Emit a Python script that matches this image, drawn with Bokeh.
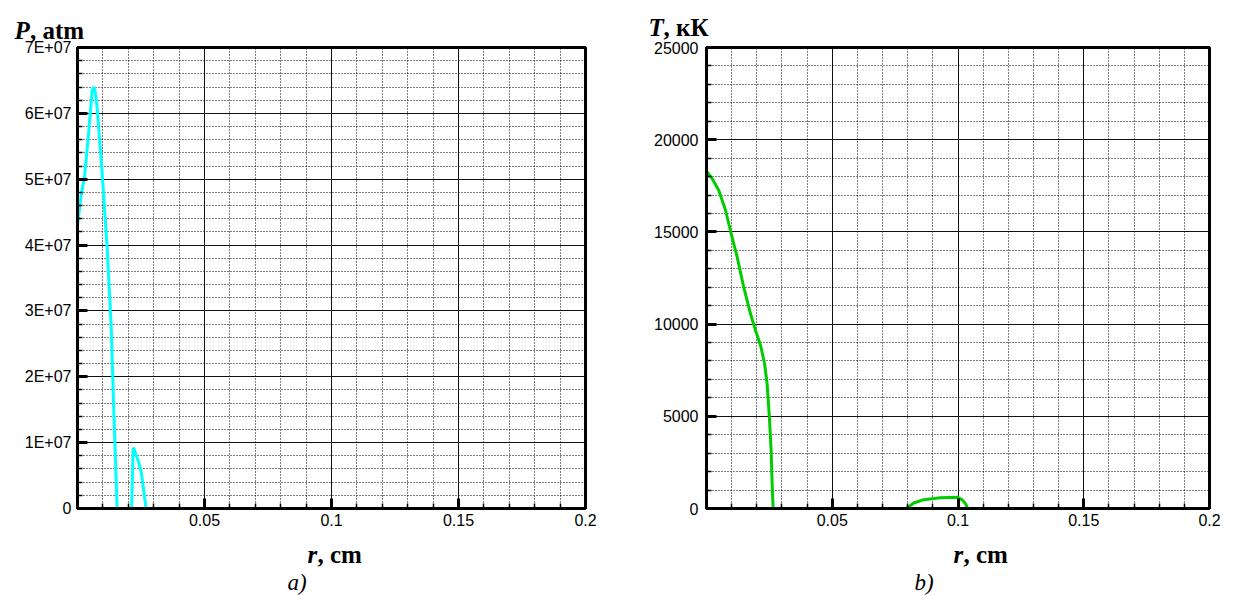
from bokeh.plotting import figure
from bokeh.layouts import row
from bokeh.models import Range1d, FixedTicker, Label
from bokeh.embed import file_html
from bokeh.resources import INLINE

# ---------------- data ----------------
# (a) pressure, atm  vs r, cm
r_p_main = [0.0, 0.0014, 0.0028, 0.0045, 0.0058, 0.0067, 0.0077, 0.0097, 0.0117, 0.0133, 0.0143, 0.0156]
p_main = [4.3e7, 4.75e7, 5.05e7, 5.75e7, 6.36e7, 6.4e7, 6.1e7, 5.1e7, 3.94e7, 2.73e7, 1.48e7, 0.0]
r_p_bump = [0.0213, 0.0219, 0.0223, 0.0241, 0.0252, 0.0270]
p_bump = [0.0, 9.2e6, 9.0e6, 7.0e6, 5.3e6, 0.0]

# (b) temperature vs r, cm
r_t_main = [0.0, 0.0023, 0.0049, 0.0076, 0.0095, 0.0122, 0.0148, 0.0175, 0.0195, 0.0215,
            0.0231, 0.0241, 0.0250, 0.0257, 0.0261, 0.0265]
t_main = [18300, 17880, 17245, 16160, 15075, 13630, 12000, 10560, 9650, 8840,
          7850, 6760, 4950, 3145, 1340, 0]
r_t_bump = [0.0795, 0.0824, 0.0864, 0.0930, 0.0997, 0.1017, 0.1030, 0.1039]
t_bump = [0, 300, 480, 580, 615, 470, 255, 0]

x_ticks = [0.0, 0.05, 0.1, 0.15, 0.2]
x_tick_labels = ["", "0.05", "0.1", "0.15", "0.2"]
p_ticks = [0, 10000000, 20000000, 30000000, 40000000, 50000000, 60000000, 70000000]
p_tick_labels = ["0", "1E+07", "2E+07", "3E+07", "4E+07", "5E+07", "6E+07", "7E+07"]
t_ticks = [0, 5000, 10000, 15000, 20000, 25000]
t_tick_labels = ["0", "5000", "10000", "15000", "20000", "25000"]

x_minor = [round(0.01 * i, 2) for i in range(21) if i % 5 != 0]
p_minor = [2000000 * i for i in range(36) if i % 5 != 0]
t_minor = [1000 * i for i in range(26) if i % 5 != 0]

TICK_FONT = "Liberation Sans"
SERIF = "Liberation Serif"


def make_panel(width, height, left, right, top, bottom, ymax, yticks, ylabels, yminor, standoff):
    p = figure(width=width, height=height, output_backend="svg", toolbar_location=None,
               x_range=Range1d(0, 0.2), y_range=Range1d(0, ymax),
               min_border_left=left, min_border_right=right,
               min_border_top=top, min_border_bottom=bottom,
               background_fill_color="white", border_fill_color="white")
    p.outline_line_color = "black"
    p.outline_line_width = 3
    p.outline_line_alpha = 1.0

    p.xaxis.ticker = FixedTicker(ticks=x_ticks, minor_ticks=x_minor)
    p.yaxis.ticker = FixedTicker(ticks=yticks, minor_ticks=yminor)
    p.xaxis.major_label_overrides = dict(zip(x_ticks, x_tick_labels))
    p.yaxis.major_label_overrides = dict(zip(yticks, ylabels))

    for ax in (p.xaxis[0], p.yaxis[0]):
        ax.axis_line_color = "black"
        ax.axis_line_width = 3
        ax.major_tick_in = 10
        ax.major_tick_out = 0
        ax.major_tick_line_width = 3
        ax.major_tick_line_color = "black"
        ax.minor_tick_in = 5
        ax.minor_tick_out = 0
        ax.minor_tick_line_width = 1.5
        ax.minor_tick_line_color = "black"
        ax.major_label_text_font = TICK_FONT
        ax.major_label_text_font_size = "16px"
        ax.major_label_text_color = "black"
    p.xaxis.major_label_standoff = 5
    p.yaxis.major_label_standoff = standoff

    for g in (p.xgrid[0], p.ygrid[0]):
        g.grid_line_color = "#111111"
        g.grid_line_width = 1
        g.minor_grid_line_color = "black"
        g.minor_grid_line_width = 1
        g.minor_grid_line_dash = "1 2"
    return p


def add_label(p, geom, px, py, text, style, place, size="25px"):
    # px, py: canvas pixels of the text's left end / baseline; converted to data units
    L, R, T, B, ymax = geom
    x = (px - L) / (R - L) * 0.2
    y = (B - py) / (B - T) * ymax
    p.add_layout(Label(x=x, y=y, text=text, text_font=SERIF, text_font_size=size,
                       text_font_style=style, text_color="black",
                       text_align="left", text_baseline="alphabetic"), place)


H = 595
# ---------------- panel a ----------------
W1 = 621
p1 = make_panel(W1, H, 77, W1 - 77 - 508, 44, H - 44 - 464, 7e7,
                p_ticks, p_tick_labels, p_minor, 6)
p1.line(r_p_main, p_main, line_color="#00ffff", line_width=3)
p1.line(r_p_bump, p_bump, line_color="#00ffff", line_width=3)
g1 = (77, 585, 44, 508, 7e7)
add_label(p1, g1, 14, 27, "P", "bold italic", "left")
add_label(p1, g1, 29.5, 27, ", atm", "bold", "above")
add_label(p1, g1, 307, 554, "r", "bold italic", "right")
add_label(p1, g1, 317, 554, ", cm", "bold", "below")
add_label(p1, g1, 287, 582, "a)", "italic", "below", "23px")

# ---------------- panel b ----------------
x0 = W1
L2 = 706 - x0
W2 = L2 + 503 + 20
p2 = make_panel(W2, H, L2, W2 - L2 - 503, 47, H - 47 - 461, 25000,
                t_ticks, t_tick_labels, t_minor, 8)
p2.line(r_t_main, t_main, line_color="#00cc00", line_width=3)
p2.line(r_t_bump, t_bump, line_color="#00cc00", line_width=3)
g2 = (706 - x0, 1209 - x0, 47, 508, 25000)
add_label(p2, g2, 648 - x0, 27, "T", "bold italic", "left")
add_label(p2, g2, 663 - x0, 27, ", кК", "bold", "above")
add_label(p2, g2, 953 - x0, 554, "r", "bold italic", "left")
add_label(p2, g2, 963 - x0, 554, ", cm", "bold", "below")
add_label(p2, g2, 914 - x0, 582, "b)", "italic", "below", "23px")

layout = row(p1, p2)
open("out.html", "w").write(file_html(layout, INLINE))
